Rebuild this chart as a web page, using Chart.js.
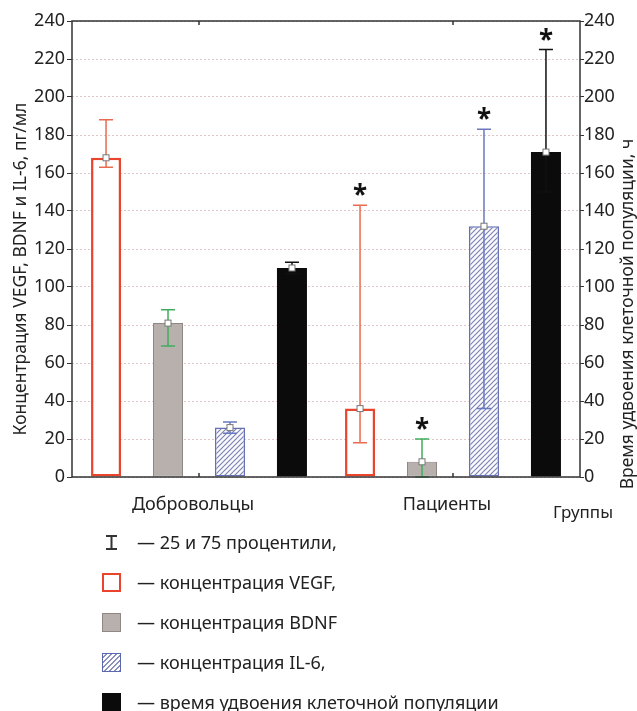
<!DOCTYPE html>
<html>
<head>
<meta charset="utf-8">
<script src="https://cdn.jsdelivr.net/npm/chart.js@4.4.1/dist/chart.umd.min.js"></script>
<style>
  body { margin: 0; background: #fff; font-family: "Noto Sans", sans-serif; color: #222; }
  #wrap { position: relative; width: 637px; height: 711px; overflow: hidden; }
  #chart { position: absolute; left: 0; top: 0; }
  .legend { position: absolute; left: 0; top: 522px; width: 637px; }
  .row { position: relative; height: 40px; font-size: 18px; }
  .sym { position: absolute; left: 102px; top: 11px; width: 19px; height: 19px; box-sizing: border-box; }
  .txt { position: absolute; left: 137px; top: 0; line-height: 40px; white-space: nowrap; }
</style>
</head>
<body>
<div id="wrap">
  <canvas id="chart" width="637" height="525"></canvas>
  <div class="legend">
    <div class="row">
      <svg class="sym" viewBox="0 0 19 19"><path d="M4 3H15M4 16H15M9.5 3V16" stroke="#333" stroke-width="2" fill="none"/></svg>
      <span class="txt">— 25 и 75 процентили,</span>
    </div>
    <div class="row">
      <div class="sym" style="border:2.5px solid #e8452c;background:#fff"></div>
      <span class="txt">— концентрация VEGF,</span>
    </div>
    <div class="row">
      <div class="sym" style="border:1.5px solid #8e8784;background:#b7b0ad"></div>
      <span class="txt">— концентрация BDNF</span>
    </div>
    <div class="row">
      <div class="sym" style="border:1.5px solid #5a68b0;background:repeating-linear-gradient(135deg,#fff 0 2px,#8a90bb 2px 3.5px)"></div>
      <span class="txt">— концентрация IL-6,</span>
    </div>
    <div class="row">
      <div class="sym" style="background:#0b0b0b"></div>
      <span class="txt">— время удвоения клеточной популяции</span>
    </div>
  </div>
</div>
<script>
// группы
const groups = ['Добровольцы', 'Пациенты'];

// медианы и 25/75 процентили
const vegf = [168, 36];
const vegfLow = [163, 18];
const vegfHigh = [188, 143];

const bdnf = [81, 8];
const bdnfLow = [69, 0];
const bdnfHigh = [88, 20];

const il6 = [26, 132];
const il6Low = [23, 36];
const il6High = [29, 183];

const doubling = [110, 171];
const doublingLow = [107, 150];
const doublingHigh = [113, 225];

// звёздочка - достоверное отличие
const significant = [false, true];

const yTicks = [0, 20, 40, 60, 80, 100, 120, 140, 160, 180, 200, 220, 240];

Chart.defaults.font.family = '"Noto Sans", sans-serif';
Chart.defaults.color = '#222';

function hatch() {
    const c = document.createElement('canvas');
    c.width = 5; c.height = 5;
    const g = c.getContext('2d');
    g.fillStyle = '#fbfbfd';
    g.fillRect(0, 0, 5, 5);
    g.strokeStyle = '#7d84b5';
    g.lineWidth = 1.2;
    g.beginPath();
    g.moveTo(0, 5); g.lineTo(5, 0);
    g.moveTo(-1, 1); g.lineTo(1, -1);
    g.moveTo(4, 6); g.lineTo(6, 4);
    g.stroke();
    return g.createPattern(c, 'repeat');
}

const ctx = document.getElementById('chart');

// усы, медианы и звёздочки
const errorBars = {
    id: 'errorBars',
    afterDatasetsDraw(chart) {
        const c = chart.ctx;
        chart.data.datasets.forEach((ds, di) => {
            const meta = chart.getDatasetMeta(di);
            const scale = chart.scales[ds.yAxisID];
            meta.data.forEach((bar, i) => {
                const x = bar.x;
                const yLo = scale.getPixelForValue(ds.low[i]);
                const yHi = scale.getPixelForValue(ds.high[i]);
                c.save();
                c.strokeStyle = ds.whiskerColor;
                c.lineWidth = 1.5;
                c.beginPath();
                c.moveTo(x, yLo); c.lineTo(x, yHi);
                c.moveTo(x - 7, yLo); c.lineTo(x + 7, yLo);
                c.moveTo(x - 7, yHi); c.lineTo(x + 7, yHi);
                c.stroke();
                const ym = scale.getPixelForValue(ds.data[i]);
                c.fillStyle = '#fff';
                c.strokeStyle = '#777';
                c.lineWidth = 1;
                c.fillRect(x - 3, ym - 3, 6, 6);
                c.strokeRect(x - 3, ym - 3, 6, 6);
                if (significant[i]) {
                    c.fillStyle = '#111';
                    c.font = 'bold 26px "Noto Sans"';
                    c.textAlign = 'center';
                    c.textBaseline = 'alphabetic';
                    c.fillText('*', x, yHi - 1);
                }
                c.restore();
            });
        });
    },
    afterDraw(chart) {
        const c = chart.ctx;
        const a = chart.chartArea;
        const xs = chart.scales.x;
        c.save();
        c.strokeStyle = '#333';
        c.lineWidth = 1.5;
        c.strokeRect(a.left, a.top, a.right - a.left, a.bottom - a.top);
        c.beginPath();
        groups.forEach((g, i) => {
            const px = xs.getPixelForValue(i);
            c.moveTo(px, a.top); c.lineTo(px, a.top + 4);
            c.moveTo(px, a.bottom); c.lineTo(px, a.bottom - 4);
        });
        c.stroke();
        // подписи осей
        c.fillStyle = '#222';
        c.textAlign = 'center';
        c.textBaseline = 'middle';
        c.font = '17.5px "Noto Sans"';
        c.translate(21, 269);
        c.rotate(-Math.PI / 2);
        c.fillText('Концентрация VEGF, BDNF и IL-6, пг/мл', 0, 0);
        c.setTransform(1, 0, 0, 1, 0, 0);
        c.font = '17.5px "Noto Sans"';
        c.translate(628, 314);
        c.rotate(-Math.PI / 2);
        c.fillText('Время удвоения клеточной популяции, ч', 0, 0);
        c.setTransform(1, 0, 0, 1, 0, 0);
        c.font = '17px "Noto Sans"';
        c.fillText('Группы', 583, 513);
        c.restore();
    }
};

new Chart(ctx, {
    type: 'bar',
    data: {
        labels: groups,
        datasets: [
            { label: 'VEGF', data: vegf, low: vegfLow, high: vegfHigh, yAxisID: 'y',
              backgroundColor: '#fff', borderColor: '#e8452c', borderWidth: 2.5, borderSkipped: false,
              whiskerColor: '#ea6a4f' },
            { label: 'BDNF', data: bdnf, low: bdnfLow, high: bdnfHigh, yAxisID: 'y',
              backgroundColor: '#b7b0ad', borderColor: '#8e8784', borderWidth: 1, borderSkipped: false,
              whiskerColor: '#3fae5c' },
            { label: 'IL-6', data: il6, low: il6Low, high: il6High, yAxisID: 'y',
              backgroundColor: hatch(), borderColor: '#6470b4', borderWidth: 1.5, borderSkipped: false,
              whiskerColor: '#6a78c0' },
            { label: 'Время удвоения', data: doubling, low: doublingLow, high: doublingHigh, yAxisID: 'y1',
              backgroundColor: '#0b0b0b', borderWidth: 0,
              whiskerColor: '#111' }
        ]
    },
    options: {
        responsive: false,
        animation: false,
        layout: { padding: { top: 21, left: 0, right: 0, bottom: 0 } },
        datasets: { bar: { categoryPercentage: 0.976, barPercentage: 0.484 } },
        plugins: { legend: { display: false }, tooltip: { enabled: false } },
        scales: {
            x: {
                offset: true,
                grid: { display: false },
                border: { display: false },
                ticks: { font: { size: 18 }, padding: 9, color: '#222', labelOffset: -6 },
                afterFit: s => { s.height = 48; }
            },
            y: {
                position: 'left',
                min: 0, max: 240,
                afterBuildTicks: s => { s.ticks = yTicks.map(v => ({ value: v })); },
                grid: { color: 'rgba(196,150,150,0.55)', tickColor: '#333', tickLength: 5, tickBorderDash: [] },
                border: { display: false, dash: [2, 2] },
                ticks: { font: { size: 18 }, padding: 2, color: '#222' },
                afterFit: s => { s.width = 72; }
            },
            y1: {
                position: 'right',
                min: 0, max: 240,
                afterBuildTicks: s => { s.ticks = yTicks.map(v => ({ value: v })); },
                grid: { drawOnChartArea: false, tickColor: '#333', tickLength: 4 },
                border: { display: false },
                ticks: { font: { size: 18 }, padding: 0, color: '#222' },
                afterFit: s => { s.width = 57; }
            }
        }
    },
    plugins: [errorBars]
});
</script>
</body>
</html>
